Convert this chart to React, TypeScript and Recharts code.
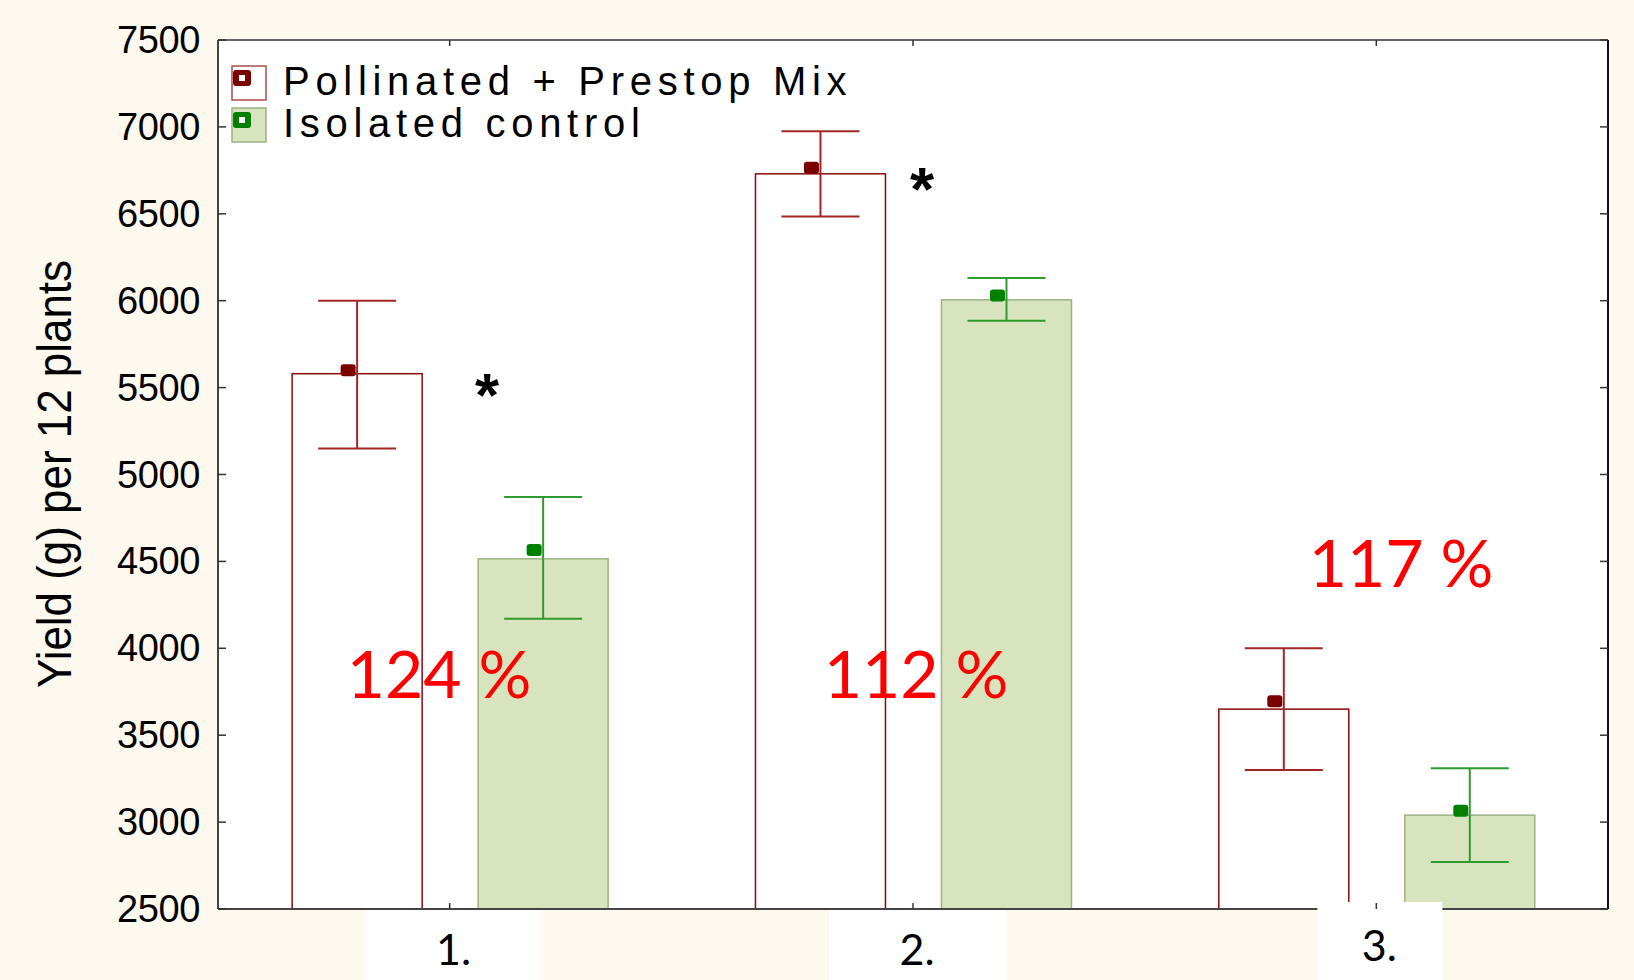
import React from 'react';
import { ComposedChart, Bar, XAxis, YAxis, ErrorBar, Legend, CartesianGrid, Customized, LabelList } from 'recharts';

const categories = ['1.', '2.', '3.'];
const pollinatedBar = [5580, 6730, 3650];
const pollinatedMean = [5600, 6765, 3695];
const pollinatedLow = [5150, 6485, 3300];
const pollinatedHigh = [6000, 6975, 4000];
const controlBar = [4515, 6005, 3040];
const controlMean = [4565, 6030, 3065];
const controlLow = [4170, 5885, 2770];
const controlHigh = [4870, 6130, 3310];
const yTicks = [2500, 3000, 3500, 4000, 4500, 5000, 5500, 6000, 6500, 7000, 7500];
const seriesNames = ['Pollinated + Prestop Mix', 'Isolated control'];
const percentLabels = ['124 %', '112 %', '117 %'];
const significance = ['*', '*', ''];
const yTitle = 'Yield (g) per 12 plants';

const Y_MIN = 2500;
const Y_MAX = 7500;

const data = categories.map((c, i) => ({
  cat: c,
  pollinated: pollinatedBar[i],
  control: controlBar[i],
  pollinatedMean: pollinatedMean[i],
  controlMean: controlMean[i],
  pollinatedErr: [pollinatedBar[i] - pollinatedLow[i], pollinatedHigh[i] - pollinatedBar[i]],
  controlErr: [controlBar[i] - controlLow[i], controlHigh[i] - controlBar[i]],
}));

const RED_STROKE = '#8B0A0A';
const RED_ERR = '#A32626';
const RED_MARK = '#7A0000';
const GREEN_FILL = '#D7E4BD';
const GREEN_STROKE = '#9DB285';
const GREEN_ERR = '#2E9B2E';
const GREEN_MARK = '#008000';
const BG = '#FEF9EE';

// annotation placement (styling only)
const annotationLayout = [
  { px: 439, py: 698, sx: 487, sy: 416 },
  { px: 916, py: 698, sx: 922, sy: 210 },
  { px: 1401, py: 587, sx: 0, sy: 0 },
];

function makeBarShape(fill: string, stroke: string, markerFill: string, valueKey: string, meanKey: string) {
  return (props: any) => {
    const { x, y, width, height, payload } = props;
    const v = payload[valueKey];
    const unit = height / (v - Y_MIN);
    const base = y + height;
    const my = base - (payload[meanKey] - Y_MIN) * unit;
    const cx = x + width / 2 - 9;
    return (
      <g>
        <rect x={x} y={y} width={width} height={height} fill={fill} stroke={stroke} strokeWidth={1.5} />
        <rect x={cx - 7.5} y={my - 6} width={15} height={12} rx={3} fill={markerFill} />
      </g>
    );
  };
}

const LeftTick = (props: any) => {
  const { x, y, payload } = props;
  return (
    <g>
      <line x1={x + 18} y1={y} x2={x + 26} y2={y} stroke="#333" strokeWidth={1.5} />
      <text x={x} y={y} dy={13} textAnchor="end" fontSize={38} letterSpacing={-0.4} fontFamily="'Liberation Sans', Arial, sans-serif" fill="#000">
        {payload.value}
      </text>
    </g>
  );
};

const RightTick = (props: any) => {
  const { x, y } = props;
  return <line x1={x - 8} y1={y} x2={x} y2={y} stroke="#333" strokeWidth={1.5} />;
};

const TopTick = (props: any) => {
  const { x, y } = props;
  return <line x1={x} y1={y} x2={x} y2={y + 6} stroke="#333" strokeWidth={1.5} />;
};

const labelBoxes = [
  { l: -84, r: 91, t: 1, dx: 4, dy: 56 },
  { l: -84, r: 93, t: 1, dx: 4, dy: 56 },
  { l: -59, r: 66, t: -7, dx: 3, dy: 52 },
];

const BottomTick = (props: any) => {
  const { x, y, payload, index } = props;
  const b = labelBoxes[index] || labelBoxes[0];
  return (
    <g>
      <rect x={x + b.l} y={y + b.t} width={b.r - b.l} height={71 - b.t} fill="#fff" />
      <line x1={x} y1={y - 6} x2={x} y2={y} stroke="#333" strokeWidth={1.5} />
      <text x={x + b.dx} y={y + b.dy} textAnchor="middle" fontSize={43} fontFamily="Lato, 'Open Sans', sans-serif" fill="#000">
        {payload.value}
      </text>
    </g>
  );
};

const AnnotationLabel = (props: any) => {
  let i = props.index;
  if (typeof i !== 'number') i = controlBar.indexOf(Number(props.value));
  const a = annotationLayout[i];
  if (!a) return null;
  return (
    <g>
      <text x={a.px} y={a.py} textAnchor="middle" fontSize={66} fontFamily="Lato, 'Open Sans', sans-serif" fill="#FF0000">
        {percentLabels[i]}
      </text>
      {significance[i] ? (
        <text x={a.sx} y={a.sy} textAnchor="middle" fontSize={62} fontWeight="bold" fontFamily="'Liberation Sans', Arial, sans-serif" fill="#000">
          {significance[i]}
        </text>
      ) : null}
    </g>
  );
};

const LegendContent = () => {
  const items = [
    { name: seriesNames[0], fill: '#fff', stroke: '#B04A4A', mark: RED_MARK },
    { name: seriesNames[1], fill: GREEN_FILL, stroke: GREEN_STROKE, mark: GREEN_MARK },
  ];
  return (
    <div>
      {items.map((it) => (
        <div key={it.name} style={{ display: 'flex', alignItems: 'flex-start', height: 42 }}>
          <svg width={36} height={36} style={{ marginTop: 5, marginRight: 16, flex: 'none' }}>
            <rect x={1} y={1} width={34} height={34} fill={it.fill} stroke={it.stroke} strokeWidth={1.5} />
            <rect x={2} y={5} width={18} height={16} rx={3} fill={it.mark} />
            <rect x={8} y={10} width={6} height={6} fill="#fff" />
          </svg>
          <span style={{ fontFamily: "'Liberation Sans', Arial, sans-serif", fontSize: 40, lineHeight: '42px', letterSpacing: 5.7, color: '#000', whiteSpace: 'nowrap' }}>
            {it.name}
          </span>
        </div>
      ))}
    </div>
  );
};

const YTitle = () => (
  <text
    transform="rotate(-90)"
    x={-474}
    y={71}
    textAnchor="middle"
    fontSize={49}
    textLength={428}
    lengthAdjust="spacingAndGlyphs"
    fontFamily="'Liberation Sans', Arial, sans-serif"
    fill="#000"
  >
    {yTitle}
  </text>
);

export default function App() {
  return (
    <div style={{ width: 1634, height: 980, background: BG, position: 'relative' }}>
      <style>{'body{margin:0;}'}</style>
      <ComposedChart
        width={1634}
        height={980}
        data={data}
        margin={{ top: 39, right: 25, bottom: 0, left: 0 }}
        barCategoryGap="16%"
        barGap={56}
      >
        <CartesianGrid fill="#fff" horizontal={false} vertical={false} />
        <XAxis
          dataKey="cat"
          xAxisId="bottom"
          orientation="bottom"
          height={71}
          tickSize={0}
          tickMargin={0}
          tickLine={false}
          axisLine={{ stroke: '#444', strokeWidth: 2 }}
          tick={<BottomTick />}
          interval={0}
        />
        <XAxis
          dataKey="cat"
          xAxisId="top"
          orientation="top"
          height={1}
          tickSize={0}
          tickMargin={0}
          tickLine={false}
          axisLine={{ stroke: '#666', strokeWidth: 2 }}
          tick={<TopTick />}
          interval={0}
        />
        <YAxis
          yAxisId="left"
          orientation="left"
          width={218}
          domain={[Y_MIN, Y_MAX]}
          ticks={yTicks}
          allowDataOverflow
          tickSize={0}
          tickMargin={18}
          tickLine={false}
          axisLine={{ stroke: '#444', strokeWidth: 2 }}
          tick={<LeftTick />}
          interval={0}
        />
        <YAxis
          yAxisId="right"
          orientation="right"
          width={1}
          domain={[Y_MIN, Y_MAX]}
          ticks={yTicks}
          allowDataOverflow
          tickSize={0}
          tickMargin={0}
          tickLine={false}
          axisLine={{ stroke: '#111', strokeWidth: 2 }}
          tick={<RightTick />}
          interval={0}
        />
        <Customized component={<YTitle />} />
        <Bar
          dataKey="pollinated"
          name={seriesNames[0]}
          xAxisId="bottom"
          yAxisId="left"
          isAnimationActive={false}
          shape={makeBarShape('#fff', RED_STROKE, RED_MARK, 'pollinated', 'pollinatedMean')}
        >
          <ErrorBar dataKey="pollinatedErr" width={39} stroke={RED_ERR} strokeWidth={2} direction="y" isAnimationActive={false} />
        </Bar>
        <Bar
          dataKey="control"
          name={seriesNames[1]}
          xAxisId="bottom"
          yAxisId="left"
          isAnimationActive={false}
          shape={makeBarShape(GREEN_FILL, GREEN_STROKE, GREEN_MARK, 'control', 'controlMean')}
        >
          <ErrorBar dataKey="controlErr" width={39} stroke={GREEN_ERR} strokeWidth={2} direction="y" isAnimationActive={false} />
          <LabelList dataKey="control" content={<AnnotationLabel />} />
        </Bar>
        <Legend
          layout="vertical"
          align="center"
          verticalAlign="middle"
          content={<LegendContent />}
          wrapperStyle={{ left: 231, top: 60, width: 'auto', height: 'auto' }}
        />
      </ComposedChart>
    </div>
  );
}
